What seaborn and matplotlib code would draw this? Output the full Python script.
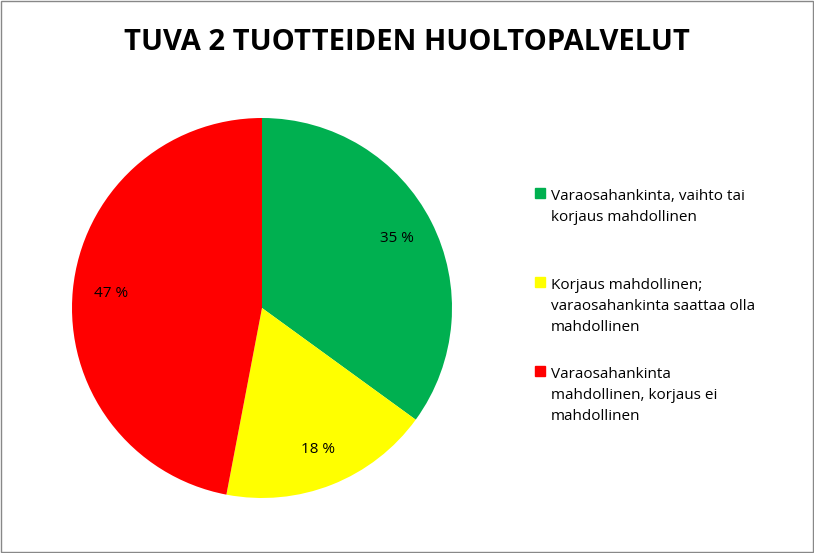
import matplotlib
matplotlib.use("Agg")
import matplotlib.pyplot as plt
import seaborn as sns
from matplotlib.patches import Rectangle

sns.set_style("white")
plt.rcParams['font.family'] = ['Open Sans', 'DejaVu Sans']
plt.rcParams['text.color'] = 'black'

labels = ["Varaosahankinta, vaihto tai\nkorjaus mahdollinen",
          "Korjaus mahdollinen;\nvaraosahankinta saattaa olla\nmahdollinen",
          "Varaosahankinta\nmahdollinen, korjaus ei\nmahdollinen"]
values = [35, 18, 47]
colors = ["#00B050", "#FFFF00", "#FF0000"]
title = "TUVA 2 TUOTTEIDEN HUOLTOPALVELUT"

W, H = 814, 553
fig = plt.figure(figsize=(W/100, H/100), dpi=100)
ax = fig.add_axes([(262-190)/W, (H-308-190)/H, 380/W, 380/H])
ax.pie(values, colors=colors, startangle=90, counterclock=False,
       autopct=lambda p: f"{p:.0f} %", pctdistance=0.8,
       wedgeprops=dict(linewidth=0),
       textprops=dict(fontsize=11, color="black"))
ax.set_xlim(-1, 1)
ax.set_ylim(-1, 1)
ax.set_aspect("equal")
fig.text(0.5, 1-42/H, title, ha="center", va="center", fontsize=21, fontweight="bold")

ys = [193, 282, 371]
for y, lab, c in zip(ys, labels, colors):
    fig.patches.append(Rectangle((535/W, 1-(y+5)/H), 10/W, 10/H, color=c,
                                 transform=fig.transFigure, figure=fig))
    fig.text(551/W, 1-(y-4)/H, lab, ha="left", va="top", fontsize=11, linespacing=1.55)

fig.patches.append(Rectangle((0.001, 0.001), 0.998, 0.998, fill=False, ec="#888888", lw=1,
                             transform=fig.transFigure, figure=fig))
fig.savefig("out.png", dpi=100)
